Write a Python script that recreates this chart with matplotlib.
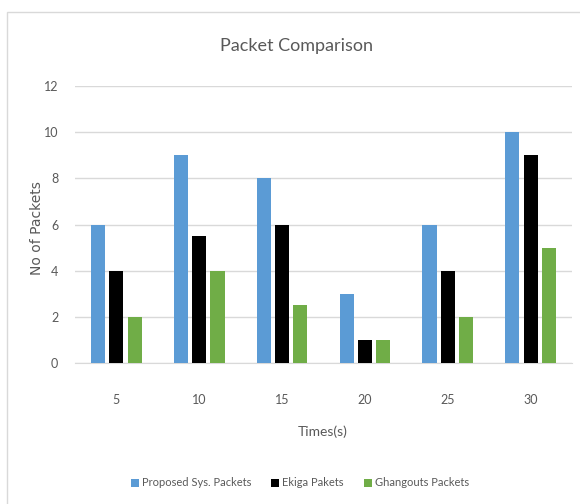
import matplotlib
matplotlib.use("Agg")
import matplotlib.pyplot as plt
import numpy as np
from matplotlib.patches import Rectangle

categories = ["5", "10", "15", "20", "25", "30"]
proposed = [6, 9, 8, 3, 6, 10]
ekiga = [4, 5.5, 6, 1, 4, 9]
ghangouts = [2, 4, 2.5, 1, 2, 5]
series_names = ["Proposed Sys. Packets", "Ekiga Pakets", "Ghangouts Packets"]
colors = ["#5B9BD5", "#000000", "#70AD47"]
yticks = [0, 2, 4, 6, 8, 10, 12]

txt = "#595959"
fig = plt.figure(figsize=(5.8, 5.04), dpi=100)
fig.patches.append(Rectangle((7/580, -0.1), 1.2, 1 - 12/504 + 0.1, transform=fig.transFigure,
                             facecolor="white", edgecolor="#D9D9D9", linewidth=1.0, zorder=-10))
ax = fig.add_axes([75/580, 1 - 363/504, 497/580, (363 - 86)/504])
ax.set_facecolor("none")

x = np.arange(len(categories))
w = 0.17
step = 0.22
for i, (vals, name, c) in enumerate(zip([proposed, ekiga, ghangouts], series_names, colors)):
    ax.bar(x + (i - 1) * step, vals, width=w, color=c, label=name, zorder=3)

ax.set_xlim(-0.5, len(categories) - 0.5)
ax.set_ylim(0, 12)
ax.set_yticks(yticks)
ax.set_xticks(x)
ax.set_xticklabels(categories)
ax.yaxis.grid(True, color="#D9D9D9", linewidth=1.0, zorder=0)
ax.set_axisbelow(True)
for s in ["top", "right", "left"]:
    ax.spines[s].set_visible(False)
ax.spines["bottom"].set_color("#D9D9D9")
ax.tick_params(axis="both", length=0, colors=txt, labelsize=9)
for lab in ax.get_xticklabels() + ax.get_yticklabels():
    lab.set_family("Lato")
ax.tick_params(axis="x", pad=22)
ax.tick_params(axis="y", pad=12)

fig.text(297/580, 1 - 46/504, "Packet Comparison", ha="center", va="center",
         fontsize=13, color=txt, family="Lato")
fig.text(37/580, 1 - 228/504, "No of Packets", ha="center", va="center", rotation=90,
         fontsize=10, color=txt, family="DejaVu Sans")
fig.text(323/580, 1 - 432/504, "Times(s)", ha="center", va="center",
         fontsize=10, color=txt, family="Lato")

leg = fig.legend(loc="center", bbox_to_anchor=(300/580, 1 - 483/504), ncol=3, frameon=False,
                 handlelength=0.7, handleheight=0.7, handletextpad=0.3, columnspacing=1.8,
                 prop={"family": "Lato", "size": 8})
for t in leg.get_texts():
    t.set_color(txt)

fig.savefig("out.png", dpi=100)
